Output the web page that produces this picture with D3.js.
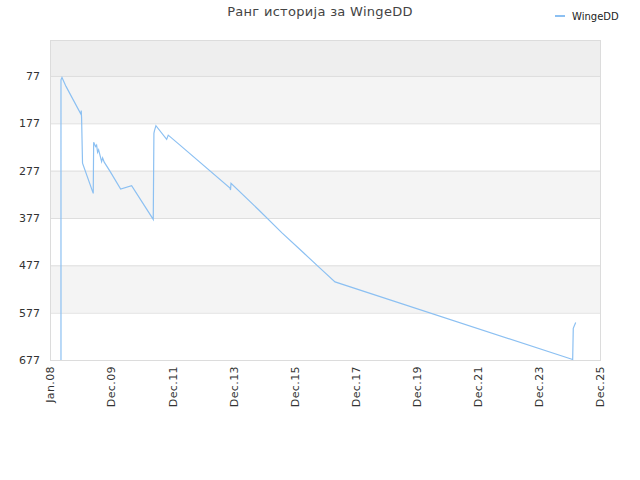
<!DOCTYPE html>
<html>
<head>
<meta charset="utf-8">
<script src="https://cdn.jsdelivr.net/npm/d3@7"></script>
<style>
  body { margin: 0; background: #fff; }
  text { font-family: "DejaVu Sans", sans-serif; }
</style>
</head>
<body>
<div id="chart"></div>
<script>
// rank history
const dates = [
  "2008-05-11", "2008-05-11", "2008-05-23", "2008-07-10", "2009-01-05",
  "2009-01-08", "2009-01-12", "2009-01-23", "2009-05-31", "2009-06-05",
  "2009-06-28", "2009-07-10", "2009-07-22", "2009-08-03", "2009-09-08",
  "2009-09-20", "2009-10-09", "2009-12-16", "2010-04-23", "2010-09-01",
  "2011-05-17", "2011-05-25", "2011-05-31", "2011-06-18", "2011-10-24",
  "2011-11-12", "2012-03-31", "2013-11-18", "2013-11-24", "2013-11-30",
  "2014-10-22", "2015-07-28", "2016-04-10", "2016-10-27", "2017-04-24",
  "2025-01-28", "2025-02-04", "2025-03-05"
];
const ranks = [
  677, 85, 80, 99, 158,
  150, 166, 261, 325, 217,
  226, 223, 238, 233, 258,
  250, 259, 278, 316, 309,
  380, 198, 193, 182, 211,
  202, 223, 314, 318, 304,
  359, 408, 450, 483, 512,
  676, 610, 598
];
const yTicks = [77, 177, 277, 377, 477, 577, 677];
const xTickLabels = ["Jan.08", "Dec.09", "Dec.11", "Dec.13", "Dec.15",
                     "Dec.17", "Dec.19", "Dec.21", "Dec.23", "Dec.25"];
const seriesName = "WingeDD";
const title = "Ранг историја за WingeDD";

const width = 640, height = 480;
const margin = { top: 40, right: 40, bottom: 120, left: 50 };

const parse = d3.timeParse("%Y-%m-%d");
const data = dates.map((d, i) => ({ date: parse(d), rank: ranks[i] }));

const start = parse("2008-01-01"), end = parse("2025-12-20");

const x = d3.scaleTime()
    .domain([start, end])
    .range([margin.left, width - margin.right]);

const y = d3.scaleLinear()
    .domain([1, 677])
    .range([margin.top, height - margin.bottom]);

const svg = d3.select("#chart")
  .append("svg")
    .attr("width", width)
    .attr("height", height);

// alternating bands
const bandEdges = [1].concat(yTicks);
svg.append("g")
  .selectAll("rect")
  .data(d3.pairs(bandEdges))
  .join("rect")
    .attr("x", margin.left)
    .attr("width", width - margin.left - margin.right)
    .attr("y", d => y(d[0]))
    .attr("height", d => y(d[1]) - y(d[0]))
    .attr("fill", (d, i) => i === 0 ? "#eeeeee" : (i % 2 ? "#f4f4f4" : "#ffffff"));

// grid lines
svg.append("g")
  .selectAll("line")
  .data(yTicks)
  .join("line")
    .attr("x1", margin.left)
    .attr("x2", width - margin.right)
    .attr("y1", d => y(d) + 0.5)
    .attr("y2", d => y(d) + 0.5)
    .attr("stroke", "#dedede");

// plot frame
svg.append("rect")
    .attr("x", margin.left + 0.5)
    .attr("y", margin.top + 0.5)
    .attr("width", width - margin.left - margin.right)
    .attr("height", height - margin.top - margin.bottom)
    .attr("fill", "none")
    .attr("stroke", "#dcdcdc");

// y axis
const yAxis = d3.axisLeft(y)
    .tickValues(yTicks)
    .tickSize(0)
    .tickPadding(10);

svg.append("g")
    .attr("transform", `translate(${margin.left},0)`)
    .call(yAxis)
    .call(g => g.select(".domain").remove())
    .call(g => g.selectAll("text")
        .attr("fill", "#333")
        .style("font-size", "11px"));

// x axis: ten evenly spaced ticks over the domain
const xTicks = d3.range(xTickLabels.length)
    .map(i => new Date(+start + i * (end - start) / (xTickLabels.length - 1)));

const xAxis = d3.axisBottom(x)
    .tickValues(xTicks)
    .tickSize(0)
    .tickFormat((d, i) => xTickLabels[i]);

svg.append("g")
    .attr("transform", `translate(0,${height - margin.bottom})`)
    .call(xAxis)
    .call(g => g.select(".domain").remove())
    .call(g => g.selectAll("text")
        .attr("fill", "#333")
        .style("font-size", "11px")
        .style("letter-spacing", "0.4px")
        .attr("text-anchor", "end")
        .attr("transform", "rotate(-90)")
        .attr("x", -6)
        .attr("y", 0)
        .attr("dy", "0.35em"));

// the rank line
const line = d3.line()
    .x(d => x(d.date))
    .y(d => y(d.rank));

svg.append("path")
    .datum(data)
    .attr("fill", "none")
    .attr("stroke", "#8cc0f2")
    .attr("stroke-width", 1.2)
    .attr("d", line);

// title
svg.append("text")
    .attr("x", width / 2)
    .attr("y", 16)
    .attr("text-anchor", "middle")
    .attr("fill", "#444")
    .style("font-size", "13px")
    .style("letter-spacing", "0.3px")
    .text(title);

// legend
const legend = svg.append("g").attr("transform", "translate(555,16)");
legend.append("line")
    .attr("x1", 0).attr("x2", 10)
    .attr("y1", 0).attr("y2", 0)
    .attr("stroke", "#8cc0f2")
    .attr("stroke-width", 2);
legend.append("text")
    .attr("x", 17)
    .attr("y", 0)
    .attr("dy", "0.35em")
    .attr("fill", "#222")
    .style("font-size", "10px")
    .text(seriesName);
</script>
</body>
</html>
